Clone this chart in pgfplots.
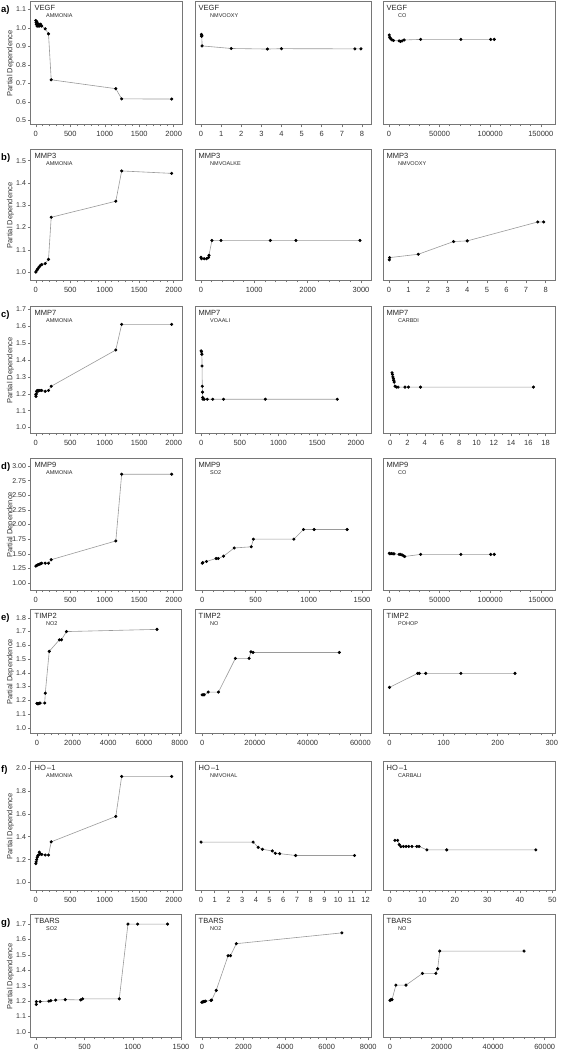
\documentclass[border=0pt]{standalone}
\usepackage{fontspec}
\setmainfont{Liberation Sans}
\setsansfont{Liberation Sans}
\usepackage{pgfplots}
\pgfplotsset{compat=1.18}
\definecolor{axgray}{HTML}{767676}
\definecolor{lngray}{HTML}{9A9A9A}
\pgfplotsset{
 pd/.style={scale only axis, anchor=north west, clip=false,
   axis line style={draw=axgray, line width=1pt},
   tick align=outside, xtick pos=bottom, ytick pos=left,
   major tick length=2.5pt, minor tick length=1.3pt,
   every tick/.style={draw=axgray, line width=0.5pt},
   minor x tick num=4, scaled x ticks=false, scaled y ticks=false,
   x tick label style={font=\fontsize{7.5}{8}\selectfont, text=black!80},
   y tick label style={font=\fontsize{7}{8}\selectfont, text=black!80, xshift=1pt},
   },
 c1/.style={pd, width=151pt},
 c2/.style={pd, width=176pt},
 c3/.style={pd, width=172pt},
 yno/.style={ytick=\empty},
 ra/.style={height=123pt, ymin=0.476, ymax=1.14, ytick={0.5,0.6,0.7,0.8,0.9,1.0,1.1}, yticklabels={0.5,0.6,0.7,0.8,0.9,1.0,1.1}},
 rb/.style={height=131pt, ymin=0.96, ymax=1.548, ytick={1.0,1.1,1.2,1.3,1.4,1.5}, yticklabels={1.0,1.1,1.2,1.3,1.4,1.5}},
 rc/.style={height=127pt, ymin=0.962, ymax=1.715, ytick={1.0,1.1,1.2,1.3,1.4,1.5,1.6,1.7}, yticklabels={1.0,1.1,1.2,1.3,1.4,1.5,1.6,1.7}},
 rd/.style={height=132pt, ymin=0.865, ymax=3.12, ytick={1.0,1.25,1.5,1.75,2.0,2.25,2.5,2.75,3.0}, yticklabels={1.00,1.25,1.50,1.75,2.00,2.25,2.50,2.75,3.00}},
 re/.style={height=124pt, ymin=0.955, ymax=1.857, ytick={1.0,1.1,1.2,1.3,1.4,1.5,1.6,1.7,1.8}, yticklabels={1.0,1.1,1.2,1.3,1.4,1.5,1.6,1.7,1.8}},
 rf/.style={height=129pt, ymin=0.926, ymax=2.052, ytick={1.0,1.2,1.4,1.6,1.8,2.0}, yticklabels={1.0,1.2,1.4,1.6,1.8,2.0}},
 rg/.style={height=123pt, ymin=0.961, ymax=1.759, ytick={1.0,1.1,1.2,1.3,1.4,1.5,1.6,1.7}, yticklabels={1.0,1.1,1.2,1.3,1.4,1.5,1.6,1.7}},
 amm/.style={xmin=-70, xmax=2120, xtick={0,500,1000,1500,2000}, xticklabels={0,500,1000,1500,2000}},
 co/.style={xmin=-5900, xmax=164000, xtick={0,50000,100000,150000}, xticklabels={0,50000,100000,150000}},
 eight/.style={xmin=-0.3, xmax=8.45, xtick={0,1,2,3,4,5,6,7,8}, xticklabels={0,1,2,3,4,5,6,7,8}, minor x tick num=0},
 notwo/.style={xmin=-330, xmax=8130, xtick={0,2000,4000,6000,8000}, xticklabels={0,2000,4000,6000,8000}},
 nox/.style={xmin=-2700, xmax=64000, xtick={0,20000,40000,60000}, xticklabels={0,20000,40000,60000}},
 sotwo/.style={xmin=-65, xmax=1560, xtick={0,500,1000,1500}, xticklabels={0,500,1000,1500}},
 pdl/.style={draw=lngray, line width=0.6pt, mark=*, mark size=1.25pt, mark options={draw=black, fill=black, solid}},
}
\newcommand{\ttl}[2]{%
 \node[anchor=north west,inner sep=0pt,xshift=3.5pt,yshift=-3.5pt,font=\fontsize{7.5}{8}\selectfont,text=black!85] at (rel axis cs:0,1) {#1};
 \node[anchor=north west,inner sep=0pt,xshift=15pt,yshift=-11.5pt,font=\fontsize{5.5}{6}\selectfont,text=black!85] at (rel axis cs:0,1) {#2};}
\begin{document}
\begin{tikzpicture}
\useasboundingbox (0pt,0pt) rectangle (561pt,1050pt);
% ---------------- row a
\begin{axis}[c1, ra, amm, at={(31pt,1048pt)}]
\ttl{VEGF}{AMMONIA}
\addplot[pdl] coordinates {(0,1.04) (4,1.03) (8,1.02) (12,1.035) (18,1.01) (25,1.025) (35,1.01) (45,1.02) (55,1.01) (70,1.02) (85,1.01) (136,0.995) (184,0.968) (223,0.72) (1160,0.672) (1245,0.617) (1970,0.616)};
\end{axis}
\begin{axis}[c2, ra, eight, yno, at={(195pt,1048pt)}]
\ttl{VEGF}{NMVOOXY}
\addplot[pdl] coordinates {(0.02,0.965) (0.03,0.955) (0.04,0.96) (0.05,0.903) (1.5,0.889) (3.3,0.886) (4.0,0.888) (7.65,0.887) (7.95,0.887)};
\end{axis}
\begin{axis}[c3, ra, co, yno, at={(383pt,1048pt)}]
\ttl{VEGF}{CO}
\addplot[pdl] coordinates {(300,0.962) (700,0.95) (1200,0.945) (2000,0.94) (3000,0.935) (4500,0.932) (10000,0.93) (11500,0.927) (13000,0.93) (15000,0.935) (31300,0.938) (71000,0.938) (100500,0.938) (104000,0.938)};
\end{axis}
% ---------------- row b
\begin{axis}[c1, rb, amm, at={(31pt,900pt)}]
\ttl{MMP3}{AMMONIA}
\addplot[pdl] coordinates {(0,1.0) (15,1.008) (30,1.015) (48,1.023) (68,1.03) (87,1.034) (136,1.038) (184,1.057) (223,1.246) (1160,1.318) (1245,1.454) (1970,1.443)};
\end{axis}
\begin{axis}[c2, rb, yno, xmin=-112, xmax=3187, xtick={0,1000,2000,3000}, xticklabels={0,1000,2000,3000}, at={(195pt,900pt)}]
\ttl{MMP3}{NMVOALKE}
\addplot[pdl] coordinates {(0,1.066) (10,1.06) (60,1.06) (105,1.06) (140,1.065) (150,1.075) (205,1.142) (375,1.142) (1300,1.142) (1780,1.142) (2980,1.142)};
\end{axis}
\begin{axis}[c3, rb, eight, yno, xmax=8.48, at={(383pt,900pt)}]
\ttl{MMP3}{NMVOOXY}
\addplot[pdl] coordinates {(0.02,1.055) (0.04,1.065) (1.5,1.08) (3.3,1.137) (4.0,1.14) (7.6,1.225) (7.9,1.225)};
\end{axis}
% ---------------- row c
\begin{axis}[c1, rc, amm, at={(31pt,743pt)}]
\ttl{MMP7}{AMMONIA}
\addplot[pdl] coordinates {(0,1.195) (2,1.185) (6,1.2) (12,1.215) (20,1.22) (30,1.215) (45,1.22) (60,1.22) (85,1.22) (136,1.215) (184,1.22) (223,1.245) (1160,1.46) (1245,1.612) (1970,1.612)};
\end{axis}
\begin{axis}[c2, rc, yno, xmin=-79, xmax=2196, xtick={0,500,1000,1500,2000}, xticklabels={0,500,1000,1500,2000}, at={(195pt,743pt)}]
\ttl{MMP7}{VOAALI}
\addplot[pdl] coordinates {(0,1.455) (5,1.45) (10,1.435) (12,1.365) (15,1.245) (18,1.21) (20,1.178) (24,1.168) (40,1.168) (80,1.168) (150,1.168) (290,1.168) (830,1.168) (1760,1.168)};
\end{axis}
\begin{axis}[c3, rc, yno, xmin=-0.85, xmax=19.1, xtick={0,2,4,6,8,10,12,14,16,18}, xticklabels={0,2,4,6,8,10,12,14,16,18}, minor x tick num=1, at={(383pt,743pt)}]
\ttl{MMP7}{CARBDI}
\addplot[pdl] coordinates {(0.2,1.325) (0.25,1.315) (0.3,1.3) (0.35,1.29) (0.4,1.28) (0.45,1.27) (0.55,1.245) (0.7,1.24) (0.9,1.24) (1.7,1.24) (2.1,1.24) (3.5,1.24) (16.6,1.24)};
\end{axis}
% ---------------- row d
\begin{axis}[c1, rd, amm, at={(31pt,591pt)}]
\ttl{MMP9}{AMMONIA}
\addplot[pdl] coordinates {(0,1.29) (10,1.3) (25,1.31) (40,1.315) (55,1.325) (70,1.33) (85,1.34) (136,1.34) (184,1.34) (223,1.40) (1160,1.72) (1245,2.86) (1970,2.86)};
\end{axis}
\begin{axis}[c2, rd, yno, xmin=-68, xmax=1584, xtick={0,500,1000,1500}, xticklabels={0,500,1000,1500}, at={(195pt,591pt)}]
\ttl{MMP9}{SO2}
\addplot[pdl] coordinates {(0,1.34) (5,1.35) (40,1.37) (130,1.42) (150,1.42) (200,1.46) (300,1.60) (460,1.62) (480,1.75) (860,1.75) (950,1.915) (1050,1.915) (1360,1.915)};
\end{axis}
\begin{axis}[c3, rd, co, yno, at={(383pt,591pt)}]
\ttl{MMP9}{CO}
\addplot[pdl] coordinates {(300,1.51) (1000,1.5) (2500,1.505) (4000,1.5) (5000,1.5) (10000,1.49) (11500,1.49) (13000,1.48) (14500,1.465) (15500,1.455) (31300,1.49) (71000,1.49) (100500,1.49) (104000,1.49)};
\end{axis}
% ---------------- row e
\begin{axis}[c1, re, notwo, at={(31pt,440pt)}]
\ttl{TIMP2}{NO2}
\addplot[pdl] coordinates {(0,1.178) (40,1.175) (80,1.175) (130,1.178) (180,1.18) (440,1.18) (470,1.252) (690,1.556) (1260,1.64) (1375,1.64) (1655,1.70) (6730,1.716)};
\end{axis}
\begin{axis}[c2, re, nox, yno, at={(195pt,440pt)}]
\ttl{TIMP2}{NO}
\addplot[pdl] coordinates {(0,1.24) (400,1.24) (800,1.24) (2300,1.26) (6200,1.26) (12600,1.505) (17800,1.505) (18500,1.553) (19300,1.548) (52000,1.548)};
\end{axis}
\begin{axis}[c3, re, yno, xmin=-12, xmax=306, xtick={0,100,200,300}, xticklabels={0,100,200,300}, at={(383pt,440pt)}]
\ttl{TIMP2}{POHOP}
\addplot[pdl] coordinates {(0,1.294) (52,1.396) (55,1.396) (67,1.396) (132,1.396) (232,1.396)};
\end{axis}
% ---------------- row f
\begin{axis}[c1, rf, amm, at={(31pt,288pt)}]
\ttl{HO\,–1}{AMMONIA}
\addplot[pdl] coordinates {(0,1.165) (5,1.18) (12,1.2) (20,1.22) (30,1.235) (40,1.24) (50,1.265) (65,1.25) (87,1.245) (136,1.24) (184,1.24) (223,1.355) (1160,1.577) (1245,1.926) (1970,1.926)};
\end{axis}
\begin{axis}[c2, rf, yno, xmin=-0.44, xmax=12.4, xtick={0,1,2,3,4,5,6,7,8,9,10,11,12}, xticklabels={0,1,2,3,4,5,6,7,8,9,10,11,12}, minor x tick num=0, at={(195pt,288pt)}]
\ttl{HO\,–1}{NMVOHAL}
\addplot[pdl] coordinates {(0,1.353) (3.8,1.353) (4.17,1.307) (4.48,1.29) (5.2,1.276) (5.42,1.255) (5.74,1.252) (6.9,1.236) (11.2,1.236)};
\end{axis}
\begin{axis}[c3, rf, yno, xmin=-2.1, xmax=50.8, xtick={0,10,20,30,40,50}, xticklabels={0,10,20,30,40,50}, at={(383pt,288pt)}]
\ttl{HO\,–1}{CARBALI}
\addplot[pdl] coordinates {(1.56,1.368) (2.4,1.368) (2.9,1.331) (3.4,1.313) (4.2,1.315) (5,1.315) (5.8,1.315) (6.8,1.315) (8.3,1.315) (9,1.315) (11.4,1.285) (17.5,1.285) (44.9,1.285)};
\end{axis}
% ---------------- row g
\begin{axis}[c1, rg, sotwo, xmin=-55, xmax=1510, at={(31pt,135pt)}]
\ttl{TBARS}{SO2}
\addplot[pdl] coordinates {(0,1.179) (0,1.197) (40,1.197) (130,1.20) (150,1.203) (200,1.207) (300,1.21) (460,1.208) (480,1.215) (860,1.215) (950,1.70) (1050,1.70) (1360,1.70)};
\end{axis}
\begin{axis}[c2, rg, notwo, yno, at={(195pt,135pt)}]
\ttl{TBARS}{NO2}
\addplot[pdl] coordinates {(0,1.193) (40,1.195) (80,1.197) (130,1.198) (180,1.2) (440,1.205) (470,1.207) (690,1.27) (1260,1.495) (1375,1.495) (1655,1.573) (6730,1.643)};
\end{axis}
\begin{axis}[c3, rg, nox, yno, at={(383pt,135pt)}]
\ttl{TBARS}{NO}
\addplot[pdl] coordinates {(0,1.205) (400,1.21) (800,1.21) (2300,1.304) (6200,1.304) (12600,1.38) (17800,1.38) (18500,1.41) (19300,1.525) (52000,1.525)};
\end{axis}
% ---------------- row letters and y labels
\foreach \lab/\yt/\yc in {a)/1048/986.5, b)/900/834.5, c)/743/679.5, d)/591/525, e)/440/378, f)/288/223.5, g)/135/73.5}{
  \node[anchor=north west, inner sep=0pt, font=\bfseries\fontsize{9.5}{10}\selectfont] at (1pt,\yt pt-3pt) {\lab};
  \node[rotate=90, inner sep=0pt, font=\fontsize{7.5}{8}\selectfont, text=black!80] at (10.5pt,\yc pt) {Partial Dependence};
}
\end{tikzpicture}
\end{document}
